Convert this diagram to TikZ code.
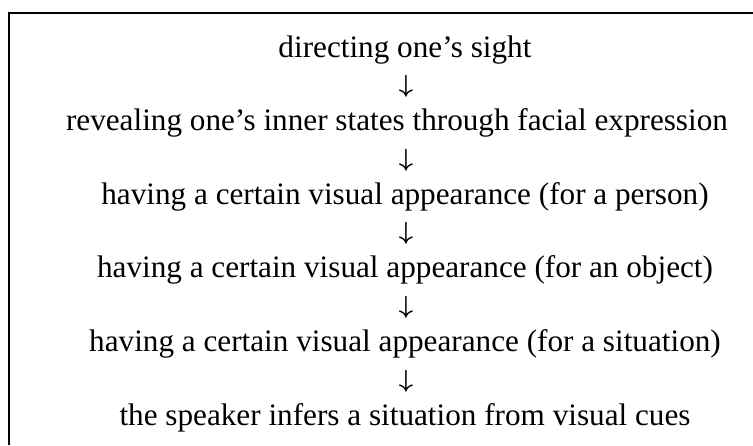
\documentclass[tikz,border=0pt]{standalone}
\usepackage{fontspec}
\setmainfont{Liberation Serif}
\tikzset{
  frameline/.style={line width=2.4pt, line cap=butt},
  rowtext/.style={anchor=base, inner sep=0pt, font=\fontsize{31.2pt}{36pt}\selectfont},
  rowarrow/.style={anchor=center, inner sep=0pt, font=\fontsize{29pt}{34pt}\selectfont\boldmath},
}
\begin{document}
\begin{tikzpicture}[x=1pt,y=1pt]
\useasboundingbox (0,0) rectangle (753,-445);
\coordinate (c1) at (9.2,-445);
\coordinate (c2) at (9.2,-13.2);
\coordinate (c3) at (753,-13.2);
\draw[frameline] (c1) -- (c2) -- (c3);
\node[rowtext] (t1) at (405,-57) {directing one’s sight};
\node[rowarrow] (a1) at (406,-86.5) {$\downarrow$};
\node[rowtext] (t2) at (397,-130.6) {revealing one’s inner states through facial expression};
\node[rowarrow] (a2) at (406,-160.1) {$\downarrow$};
\node[rowtext] (t3) at (405,-204.2) {having a certain visual appearance (for a person)};
\node[rowarrow] (a3) at (406,-233.7) {$\downarrow$};
\node[rowtext] (t4) at (405,-277.8) {having a certain visual appearance (for an object)};
\node[rowarrow] (a4) at (406,-307.3) {$\downarrow$};
\node[rowtext] (t5) at (405,-351.4) {having a certain visual appearance (for a situation)};
\node[rowarrow] (a5) at (406,-380.9) {$\downarrow$};
\node[rowtext] (t6) at (405,-425) {the speaker infers a situation from visual cues};
\end{tikzpicture}
\end{document}
